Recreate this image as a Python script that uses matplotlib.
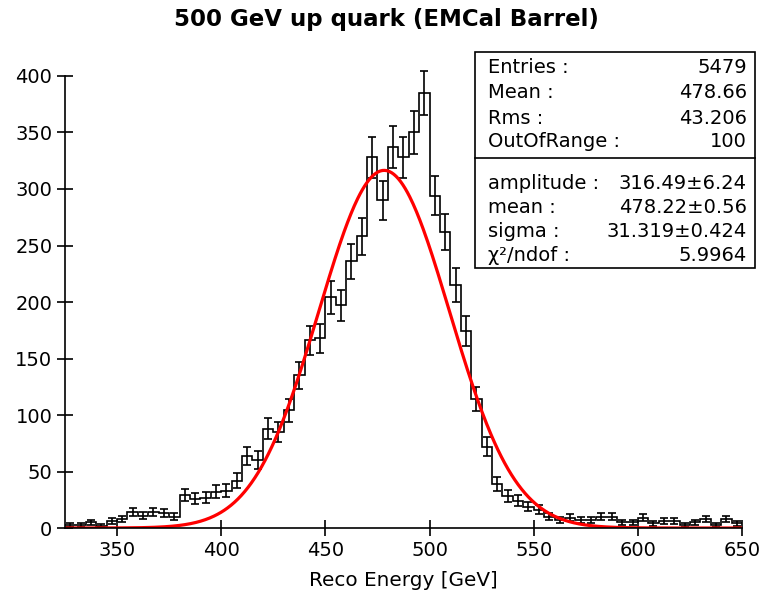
import numpy as np
import matplotlib
matplotlib.use("Agg")
import matplotlib.pyplot as plt
from matplotlib.patches import Rectangle

# histogram: 5 GeV bins from 325 to 650
bin_lo = 325
bin_w = 5
counts = [3, 3, 5, 2, 6, 8, 14, 11, 14, 13,
          10, 29, 26, 27, 32, 33, 42, 64, 60, 88,
          85, 104, 135, 166, 168, 204, 197, 236, 258, 328,
          290, 337, 328, 350, 385, 294, 262, 215, 174, 114,
          72, 39, 28, 24, 19, 16, 10, 7, 9, 7,
          7, 10, 10, 5, 5, 9, 4, 6, 6, 3,
          5, 8, 3, 8, 4]

# fit result shown in the stats box
fit_amp = 316.49
fit_mean = 478.22
fit_sigma = 31.319

stats_top = [("Entries :", "5479"), ("Mean :", "478.66"),
             ("Rms :", "43.206"), ("OutOfRange :", "100")]
stats_fit = [("amplitude :", "316.49\u00b16.24"), ("mean :", "478.22\u00b10.56"),
             ("sigma :", "31.319\u00b10.424"), ("\u03c7\u00b2/ndof :", "5.9964")]

counts = np.array(counts, dtype=float)
edges = bin_lo + bin_w * np.arange(len(counts) + 1)
centers = 0.5 * (edges[:-1] + edges[1:])

fig = plt.figure(figsize=(7.63, 5.99), dpi=100)
ax = fig.add_axes([0.0851, 0.1185, 0.8874, 0.7735])

ax.stairs(counts, edges, color="black", lw=1.2, baseline=None)
ax.errorbar(centers, counts, yerr=np.sqrt(counts), fmt="none", ecolor="black",
            elinewidth=1.2, capsize=2.9, capthick=1.2)

xf = np.linspace(325, 650, 600)
ax.plot(xf, fit_amp * np.exp(-0.5 * ((xf - fit_mean) / fit_sigma) ** 2),
        color="#ff0000", lw=2.3)

ax.set_xlim(325, 650)
ax.set_ylim(0, 410)
ax.set_xticks(range(350, 651, 50))
ax.set_yticks(range(0, 401, 50))
ax.tick_params(direction="inout", length=12, width=1.2, labelsize=14, pad=3)
for s in ["top", "right"]:
    ax.spines[s].set_visible(False)
ax.spines["left"].set_bounds(0, 400)
ax.spines["left"].set_linewidth(1.2)
ax.spines["bottom"].set_linewidth(1.2)
ax.set_xlabel("Reco Energy [GeV]", fontsize=14.4, labelpad=8)

fig.text(0.506, 0.967, "500 GeV up quark (EMCal Barrel)", ha="center", va="center",
         fontsize=16.5, fontweight="bold")

# stats box
fig.patches.append(Rectangle((0.6225, 0.5526), 0.367, 0.3606, transform=fig.transFigure,
                             fill=True, facecolor="white", edgecolor="black", lw=1.2,
                             zorder=5))
fig.add_artist(plt.Line2D([0.6225, 0.9895], [0.7362, 0.7362], transform=fig.transFigure,
                          color="black", lw=1.2, zorder=6))
rows_y = [0.888, 0.845, 0.803, 0.763, 0.694, 0.654, 0.613, 0.573]
for (lab, val), y in zip(stats_top + stats_fit, rows_y):
    fig.text(0.6396, y, lab, ha="left", va="center", fontsize=14, zorder=7)
    fig.text(0.979, y, val, ha="right", va="center", fontsize=14, zorder=7)

fig.savefig("out.png", dpi=100)
